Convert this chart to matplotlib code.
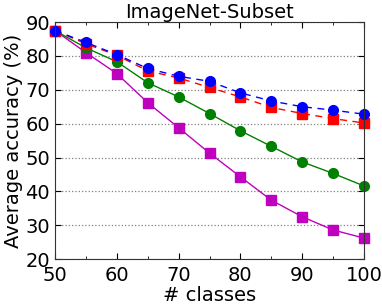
import matplotlib.pyplot as plt
import numpy as np

# Number of classes
classes = [50, 55, 60, 65, 70, 75, 80, 85, 90, 95, 100]

# Average accuracy (%) per method
acc_magenta = [87.5, 81.0, 74.8, 66.2, 58.8, 51.3, 44.3, 37.4, 32.5, 28.6, 26.2]
acc_green = [87.5, 82.4, 78.3, 72.1, 67.9, 63.0, 57.9, 53.3, 48.7, 45.3, 41.6]
acc_red = [87.5, 83.6, 80.2, 75.6, 73.5, 70.7, 67.9, 64.8, 63.0, 61.5, 60.2]
acc_blue = [87.5, 84.0, 80.4, 76.3, 74.0, 72.5, 69.1, 66.7, 65.0, 64.0, 62.8]

fig = plt.figure(figsize=(3.82, 3.07), dpi=100)
ax = fig.add_axes([0.144, 0.156, 0.809, 0.772])

ax.plot(classes, acc_magenta, color="m", marker="s", markersize=7, linewidth=1,
        markeredgecolor="m", clip_on=False)
ax.plot(classes, acc_green, color="g", marker="o", markersize=7, linewidth=1,
        markeredgecolor="g", clip_on=False)
ax.plot(classes, acc_red, color="r", marker="s", markersize=7, linewidth=1, dashes=(5, 4),
        markeredgecolor="r", clip_on=False)
ax.plot(classes, acc_blue, color="b", marker="o", markersize=7, linewidth=1, dashes=(5, 4),
        markeredgecolor="b", clip_on=False)

ax.set_xlim(50, 100)
ax.set_ylim(20, 90)
ax.set_xticks([50, 60, 70, 80, 90, 100])
ax.set_xticks(np.arange(55, 100, 10), minor=True)
ax.set_yticks([20, 30, 40, 50, 60, 70, 80, 90])
ax.tick_params(direction="in", top=True, right=True, labelsize=14, length=4)
ax.tick_params(axis="x", pad=5)
ax.tick_params(which="minor", direction="in", top=True, length=2)
ax.yaxis.grid(True, linestyle=":", color="gray", linewidth=0.9)
ax.set_axisbelow(True)

ax.set_title("ImageNet-Subset", fontsize=14, pad=3)
ax.set_xlabel("# classes", fontsize=14, labelpad=1)
ax.set_ylabel("Average accuracy (%)", fontsize=14, labelpad=2)

for s in ax.spines.values():
    s.set_color("#333333")

plt.savefig("out.png", dpi=100)
